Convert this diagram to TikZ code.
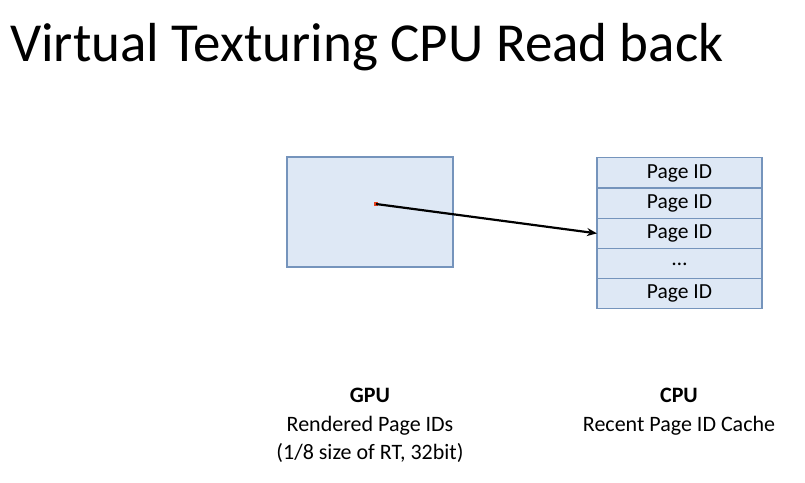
\documentclass[tikz,border=0pt]{standalone}
\usepackage{fontspec}
\setmainfont{Carlito}
\usetikzlibrary{arrows.meta,positioning}
\definecolor{boxfill}{HTML}{DEE8F5}
\definecolor{boxline}{HTML}{7594BC}
\definecolor{hitred}{HTML}{E8401C}

\begin{document}
\begin{tikzpicture}[x=1pt, y=1pt,
    surface/.style={draw=boxline, fill=boxfill, line width=1.2pt, minimum width=166pt, minimum height=110pt, inner sep=0pt},
    slot/.style={draw=boxline, fill=boxfill, line width=1.2pt, outer sep=0pt, minimum width=165pt, minimum height=30.2pt, inner sep=0pt, font=\fontsize{21.5}{24}\selectfont},
    lbl/.style={font=\fontsize{22}{28.5}\selectfont, anchor=base, inner sep=0pt},
]
\useasboundingbox (0,0) rectangle (805,482);

% Title
\node[anchor=base west, inner sep=0pt, font=\fontsize{55}{64}\selectfont] (title) at (10,420) {Virtual Texturing CPU Read back};

% GPU render target
\node[surface] (rt) at (370,270) {};
\node[fill=hitred, minimum width=4pt, minimum height=4pt, inner sep=0pt] (hit) at (376,278) {};

% CPU cache slots
\node[slot] (s1) at (679.5,309) {Page ID};
\node[slot, below=0pt of s1] (s2) {Page ID};
\node[slot, below=0pt of s2] (s3) {Page ID};
\node[slot, below=0pt of s3] (s4) {\raisebox{-3pt}{\dots}};
\node[slot, below=0pt of s4] (s5) {Page ID};

% Read back
\draw[line width=2.2pt, -{Stealth[length=10pt, width=8pt]}] (hit.center) -- (s3.west);

% Captions
\node[lbl, font=\fontsize{22}{28.5}\selectfont\bfseries] (gpu) at (370,80) {GPU};
\node[lbl] (gpuinfo) at (370,51) {Rendered Page IDs};
\node[lbl] (gpusize) at (370,22.5) {(1/8 size of RT, 32bit)};
\node[lbl, font=\fontsize{22}{28.5}\selectfont\bfseries] (cpu) at (679,80) {CPU};
\node[lbl] (cpuinfo) at (679,51) {Recent Page ID Cache};

\end{tikzpicture}
\end{document}
